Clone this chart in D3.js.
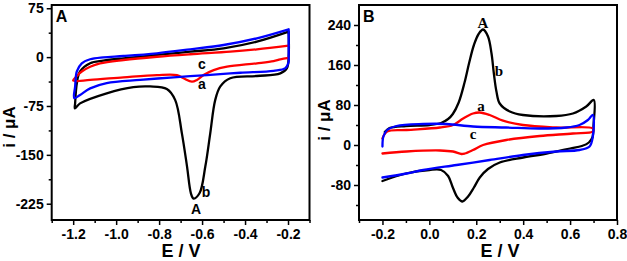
<!DOCTYPE html>
<html><head><meta charset="utf-8">
<script src="https://cdn.jsdelivr.net/npm/d3@7"></script>
<style>
html,body{margin:0;padding:0;background:#fff;}
svg{display:block;}
</style></head>
<body>
<svg id="chart" width="627" height="261"></svg>
<script>
// ---------- Panel A data ----------
const aXTicks = [-1.2, -1.0, -0.8, -0.6, -0.4, -0.2];
const aXTickLabels = ["-1.2", "-1.0", "-0.8", "-0.6", "-0.4", "-0.2"];
const aYTicks = [75, 0, -75, -150, -225];
const aYTickLabels = ["75", "0", "-75", "-150", "-225"];

// curve b (black)
const aBlackE = [-0.197,-0.345,-0.5,-0.655,-0.81,-0.966,-1.06,-1.121,-1.168,-1.183,-1.191,-1.192,
  -1.168,-1.044,-0.92,-0.842,-0.764,-0.725,-0.694,-0.67,-0.652,-0.64,-0.612,-0.585,-0.562,-0.539,
  -0.515,-0.469,-0.345,-0.236,-0.205,-0.197,-0.197];
const aBlackI = [39,23.7,13.5,8.3,3.3,-1.8,-5.5,-9.5,-22,-40,-71,-78.6,
  -71,-55.5,-46,-45,-49,-66,-117,-168,-209,-217,-209,-168,-117,-66,
  -45,-32.5,-29,-25,-17,0.6,39];
// curve c (blue)
const aBlueE = [-0.197,-0.345,-0.5,-0.655,-0.81,-0.966,-1.06,-1.121,-1.16,-1.183,-1.191,-1.195,
  -1.168,-1.121,-1.044,-0.888,-0.733,-0.577,-0.422,-0.267,-0.212,-0.197,-0.197,-0.197];
const aBlueI = [42.7,28.9,18.6,12,5.9,1.7,-0.3,-3.3,-9.5,-22,-45.4,-63,
  -58,-48,-40,-35,-31,-27.5,-24,-21,-17,-7,0.6,42.7];
// curve a (red)
const aRedE = [-0.197,-0.345,-0.469,-0.655,-0.81,-0.966,-1.075,-1.121,-1.16,-1.183,-1.2,
  -1.121,-0.966,-0.81,-0.717,-0.686,-0.647,-0.624,-0.593,-0.546,-0.484,-0.345,-0.267,-0.236,-0.197];
const aRedI = [17.5,12,8.3,4.4,0.6,-4.4,-9.5,-14.7,-22,-29,-36,
  -35,-31,-27.5,-27.5,-32.5,-37.7,-35,-27.5,-20,-14.7,-9.5,-6,-3.3,-1];

// ---------- Panel B data ----------
const bXTicks = [-0.2, 0.0, 0.2, 0.4, 0.6, 0.8];
const bXTickLabels = ["-0.2", "0.0", "0.2", "0.4", "0.6", "0.8"];
const bYTicks = [240, 160, 80, 0, -80];
const bYTickLabels = ["240", "160", "80", "0", "-80"];

const bBlackE = [-0.19,-0.17,-0.1,0.0,0.05,0.08,0.1,0.125,0.15,0.17,0.19,0.21,0.229,0.25,0.265,0.275,0.286,0.3,0.343,0.399,0.541,0.612,0.669,0.701,
  0.7,0.695,0.68,0.65,0.6,0.5,0.4,0.3,0.25,0.215,0.19,0.165,0.141,0.12,0.1,0.08,0.05,0.0,-0.1,-0.2];
const bBlackI = [26,34,38,40,44,52,62,85,125,165,200,222,231,217,183,143,107,83,67,60,58,63,77,90,
  40,15,5,-2,-7,-17,-25,-35,-48,-65,-85,-103,-113,-105,-85,-62,-50,-50,-57,-72];
const bBlueE = [-0.2,-0.196,-0.18,-0.14,-0.026,0.073,0.186,0.328,0.47,0.584,0.64,0.676,0.697,
  0.697,0.683,0.64,0.541,0.399,0.257,0.116,-0.026,-0.097,-0.2];
const bBlueI = [-3,17,30,38,42,42,37,35,33,35,40,50,60,
  17,-3,-10,-13,-20,-30,-40,-50,-57,-65];
const bRedE = [-0.2,-0.18,-0.097,0.045,0.101,0.144,0.186,0.215,0.257,0.314,0.399,0.541,0.697,
  0.697,0.612,0.47,0.328,0.229,0.186,0.151,0.137,0.101,0.045,-0.097,-0.2];
const bRedI = [13,27,30,35,40,53,63,65,60,48.7,40,35,33,
  27,23,18,10,0,-10,-17,-18,-13,-11,-13,-17];

const svg = d3.select("#chart");
const SANS = "Liberation Sans, Arial, Helvetica, sans-serif";
const SERIF = "Liberation Serif, Times New Roman, serif";

function panel(cfg) {
  const x = d3.scaleLinear().domain(cfg.xDomain).range(cfg.xRange);
  const y = d3.scaleLinear().domain(cfg.yDomain).range(cfg.yRange);
  const g = svg.append("g");
  const line = d3.line().x(d => x(d[0])).y(d => y(d[1])).curve(d3.curveCatmullRom.alpha(0.5));

  cfg.series.forEach(s => {
    g.append("path").attr("d", line(d3.zip(s.E, s.I)))
      .attr("fill", "none").attr("stroke", s.color).attr("stroke-width", 2.3)
      .attr("stroke-linejoin", "round").attr("stroke-linecap", "round");
  });

  // axes
  const xAxis = d3.axisBottom(x).tickValues(cfg.xTicks).tickSize(5).tickPadding(4)
    .tickFormat((d, i) => cfg.xTickLabels[i]);
  const yAxis = d3.axisLeft(y).tickValues(cfg.yTicks).tickSize(5).tickPadding(3)
    .tickFormat((d, i) => cfg.yTickLabels[i]);
  const xMinor = d3.axisBottom(x).tickValues(cfg.xMinor).tickSize(3).tickFormat("");
  const yMinor = d3.axisLeft(y).tickValues(cfg.yMinor).tickSize(3).tickFormat("");

  g.append("g").attr("transform", `translate(0,${cfg.yRange[0]})`).call(xAxis);
  g.append("g").attr("transform", `translate(0,${cfg.yRange[0]})`).call(xMinor);
  g.append("g").attr("transform", `translate(${cfg.xRange[0]},0)`).call(yAxis);
  g.append("g").attr("transform", `translate(${cfg.xRange[0]},0)`).call(yMinor);
  g.selectAll(".domain").remove();
  g.selectAll(".tick line").attr("stroke", "#000").attr("stroke-width", 1.5);
  g.selectAll(".tick text").attr("font-family", SANS).attr("font-weight", "bold")
    .attr("font-size", 14).attr("fill", "#000");

  // frame
  g.append("rect").attr("x", cfg.xRange[0]).attr("y", cfg.yRange[1])
    .attr("width", cfg.xRange[1] - cfg.xRange[0]).attr("height", cfg.yRange[0] - cfg.yRange[1])
    .attr("fill", "none").attr("stroke", "#000").attr("stroke-width", 2);

  // titles
  g.append("text").attr("x", cfg.xTitleX).attr("y", 257).attr("text-anchor", "middle")
    .attr("font-family", SANS).attr("font-weight", "bold").attr("font-size", 18).text("E / V");
  g.append("text").attr("transform", `translate(${cfg.yTitleX},${cfg.yTitleY}) rotate(-90)`)
    .attr("text-anchor", "middle").attr("font-family", SANS).attr("font-weight", "bold")
    .attr("font-size", 17).text("i / μA");
  g.append("text").attr("x", cfg.xRange[0] + 4).attr("y", 22)
    .attr("font-family", SANS).attr("font-weight", "bold").attr("font-size", 16).text(cfg.letter);

  cfg.labels.forEach(l => {
    g.append("text").attr("x", l.x).attr("y", l.y).attr("text-anchor", "middle")
      .attr("font-family", cfg.labelFont).attr("font-weight", "bold")
      .attr("font-size", cfg.labelSize).text(l.t);
  });
}

panel({
  xDomain: [-1.3, -0.1], xRange: [51.7, 309.5],
  yDomain: [-250, 80], yRange: [220, 5],
  xTicks: aXTicks, xTickLabels: aXTickLabels,
  yTicks: aYTicks, yTickLabels: aYTickLabels,
  xMinor: [-1.3, -1.1, -0.9, -0.7, -0.5, -0.3, -0.1],
  yMinor: [37.5, -37.5, -112.5, -187.5],
  series: [
    {E: aBlackE, I: aBlackI, color: "#000000"},
    {E: aRedE, I: aRedI, color: "#ff0000"},
    {E: aBlueE, I: aBlueI, color: "#0000ff"}
  ],
  xTitleX: 181, yTitleX: 15, yTitleY: 127, letter: "A",
  labelFont: SANS, labelSize: 14,
  labels: [
    {t: "c", x: 202, y: 69}, {t: "a", x: 202, y: 89},
    {t: "b", x: 206, y: 197}, {t: "A", x: 196, y: 214}
  ]
});

panel({
  xDomain: [-0.3, 0.8], xRange: [359, 617],
  yDomain: [-150, 280], yRange: [220, 5],
  xTicks: bXTicks, xTickLabels: bXTickLabels,
  yTicks: bYTicks, yTickLabels: bYTickLabels,
  xMinor: [-0.3, -0.1, 0.1, 0.3, 0.5, 0.7],
  yMinor: [200, 120, 40, -40, -120],
  series: [
    {E: bBlackE, I: bBlackI, color: "#000000"},
    {E: bRedE, I: bRedI, color: "#ff0000"},
    {E: bBlueE, I: bBlueI, color: "#0000ff"}
  ],
  xTitleX: 500, yTitleX: 330, yTitleY: 120, letter: "B",
  labelFont: SERIF, labelSize: 15,
  labels: [
    {t: "A", x: 483, y: 28}, {t: "b", x: 499, y: 76},
    {t: "a", x: 481, y: 111}, {t: "c", x: 473, y: 139}
  ]
});
</script>
</body></html>
